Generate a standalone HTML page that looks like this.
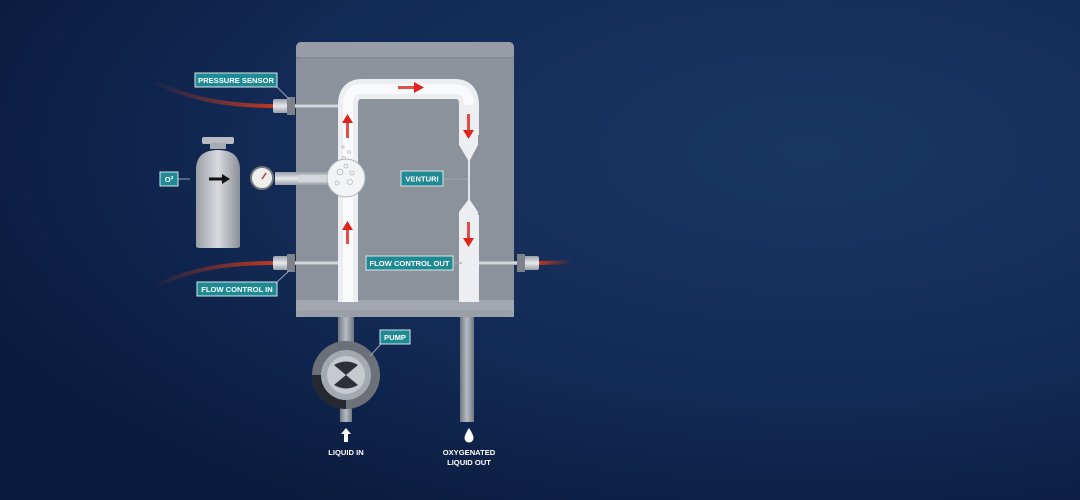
<!DOCTYPE html>
<html><head><meta charset="utf-8"><style>
html,body{margin:0;padding:0;width:1080px;height:500px;overflow:hidden;background:#0d2047}
svg{display:block}
text{font-family:"Liberation Sans",sans-serif;font-weight:bold;fill:#fff}
</style></head><body>
<svg width="1080" height="500" viewBox="0 0 1080 500" xmlns="http://www.w3.org/2000/svg">
<defs>
<radialGradient id="bg" cx="0.75" cy="0.3" r="0.85">
<stop offset="0" stop-color="#1a3663"/><stop offset="0.6" stop-color="#122a55"/><stop offset="1" stop-color="#0a1a3c"/>
</radialGradient>
<linearGradient id="hose" x1="0" x2="1"><stop offset="0" stop-color="#b5341f" stop-opacity="0"/><stop offset="1" stop-color="#c0391f"/></linearGradient>
<linearGradient id="hose2" x1="1" x2="0"><stop offset="0" stop-color="#b5341f" stop-opacity="0"/><stop offset="1" stop-color="#c0391f"/></linearGradient>
<linearGradient id="cyl" x1="0" x2="1"><stop offset="0" stop-color="#9a9ea6"/><stop offset="0.5" stop-color="#d8dadf"/><stop offset="1" stop-color="#8b8f97"/></linearGradient>
<linearGradient id="pipe" x1="0" x2="1"><stop offset="0" stop-color="#707680"/><stop offset="0.5" stop-color="#b7bcc4"/><stop offset="1" stop-color="#707680"/></linearGradient>
<linearGradient id="pipeh" x1="0" y1="0" x2="0" y2="1"><stop offset="0" stop-color="#9a9fa7"/><stop offset="0.5" stop-color="#e6e8ec"/><stop offset="1" stop-color="#9a9fa7"/></linearGradient>
</defs>
<rect width="1080" height="500" fill="url(#bg)"/>
<path d="M150 80 C190 100 230 106 275 106" stroke="url(#hose)" stroke-width="4" fill="none"/>
<path d="M152 288 C190 268 230 263 275 263" stroke="url(#hose)" stroke-width="4" fill="none"/>
<path d="M538 263 L572 262" stroke="url(#hose2)" stroke-width="4" fill="none"/>
<rect x="338" y="314" width="16" height="30" fill="url(#pipe)"/>
<rect x="340" y="400" width="12" height="22" fill="url(#pipe)"/>
<rect x="460" y="314" width="14" height="108" fill="url(#pipe)"/>
<rect x="296" y="42" width="218" height="275" rx="5" fill="#8c929c"/>
<rect x="296" y="42" width="218" height="16" rx="5" fill="#979ca6"/>
<line x1="296" y1="58" x2="514" y2="58" stroke="#7a8089" stroke-width="1"/>
<rect x="296" y="300" width="218" height="17" fill="#a3a8b0"/>
<rect x="296" y="310" width="218" height="7" rx="3" fill="#9ba0a8"/>
<rect x="292" y="104" width="48" height="4" fill="url(#pipeh)"/>
<rect x="292" y="261" width="48" height="4" fill="url(#pipeh)"/>
<rect x="478" y="261" width="42" height="4" fill="url(#pipeh)"/>
<rect x="273" y="99" width="22" height="14" rx="2" fill="url(#pipeh)"/><rect x="287" y="97" width="8" height="18" fill="#7d828a"/>
<rect x="273" y="256" width="22" height="14" rx="2" fill="url(#pipeh)"/><rect x="287" y="254" width="8" height="18" fill="#7d828a"/>
<rect x="517" y="256" width="22" height="14" rx="2" fill="url(#pipeh)"/><rect x="517" y="254" width="8" height="18" fill="#7d828a"/>
<path d="M348 302 L348 105 Q348 89 362 89 L455 89 Q469 89 469 105 L469 300" stroke="#eceef1" stroke-width="20" fill="none"/>
<path d="M348 302 L348 105 Q348 89 362 89 L455 89 Q469 89 469 105" stroke="#ffffff" stroke-width="10" fill="none" opacity="0.7"/>
<rect x="455" y="135" width="30" height="80" fill="#8c929c"/>
<path d="M459 135 L478 135 L478 145 L470 160 L468 160 L459 145 Z" fill="#eceef1"/>
<rect x="468" y="160" width="2" height="42" fill="#e0e2e6"/>
<path d="M468 200 L470 200 L478 212 L478 220 L459 220 L459 212 Z" fill="#eceef1"/>
<rect x="459" y="218" width="20" height="84" fill="#eceef1"/>
<rect x="275" y="172" width="60" height="13" fill="url(#pipeh)"/>
<rect x="298" y="175" width="35" height="7" fill="#d4d6da"/>
<circle cx="346" cy="178" r="19" fill="#f2f3f5" stroke="#b0b4bb"/>
<g fill="none" stroke="#b5b9c0" stroke-width="0.8">
<circle cx="340" cy="172" r="3"/><circle cx="350" cy="182" r="2.5"/><circle cx="337" cy="183" r="2"/><circle cx="346" cy="166" r="2"/><circle cx="352" cy="173" r="2"/><circle cx="344" cy="158" r="1.5"/><circle cx="349" cy="152" r="1.5"/><circle cx="343" cy="147" r="1.2"/>
</g>
<circle cx="262" cy="178" r="11" fill="#eee" stroke="#777" stroke-width="2"/>
<line x1="262" y1="179" x2="266" y2="173" stroke="#c0392b" stroke-width="1.5"/>
<rect x="202" y="137" width="32" height="7" rx="2" fill="#b8bcc2"/>
<rect x="210" y="143" width="16" height="6" fill="#a6aab1"/>
<path d="M196 246 L196 170 Q196 150 218 150 Q240 150 240 170 L240 246 Q240 248 236 248 L200 248 Q196 248 196 246Z" fill="url(#cyl)"/>
<path d="M209 179 L223 179" stroke="#111" stroke-width="3"/><path d="M222 174 L230 179 L222 184Z" fill="#111"/>
<g fill="#e0241b">
<rect x="346" y="122" width="3" height="16" opacity="0.8"/><path d="M342 123 L347.5 114 L353 123Z"/>
<rect x="346" y="228" width="3" height="16" opacity="0.8"/><path d="M342 230 L347.5 221 L353 230Z"/>
<rect x="398" y="86" width="18" height="3" opacity="0.8"/><path d="M414 82 L424 87.5 L414 93Z"/>
<rect x="467" y="114" width="3" height="16" opacity="0.8"/><path d="M463 130 L468.5 139 L474 130Z"/>
<rect x="467" y="222" width="3" height="16" opacity="0.8"/><path d="M463 238 L468.5 247 L474 238Z"/>
</g>
<circle cx="346" cy="375" r="34" fill="#6b7079"/>
<path d="M312 375 A34 34 0 0 0 346 409 L346 400 A25 25 0 0 1 321 375Z" fill="#25282e"/>
<circle cx="346" cy="375" r="25" fill="#a4a9b1"/>
<circle cx="346" cy="375" r="19" fill="#c6c9ce"/>
<path d="M334 365 Q346 358 358 365 L346 375Z M334 385 Q346 392 358 385 L346 375Z" fill="#2d3036"/>
<g stroke="#9aa3ad" stroke-width="1" fill="none">
<line x1="277" y1="87" x2="290" y2="100"/><line x1="277" y1="282" x2="290" y2="270"/>
<line x1="178" y1="179" x2="190" y2="179"/><line x1="443" y1="179" x2="468" y2="179"/>
<line x1="453" y1="263" x2="462" y2="263"/><line x1="381" y1="344" x2="370" y2="356"/>
</g>
<g fill="#1f8a93" stroke="#d7e6ea" stroke-width="1">
<rect x="195" y="73" width="82" height="14"/><rect x="160" y="172" width="18" height="14"/>
<rect x="401" y="171" width="42" height="15"/><rect x="197" y="282" width="80" height="14"/>
<rect x="366" y="256" width="87" height="14"/><rect x="380" y="330" width="30" height="14"/>
</g>
<g font-size="7.6" text-anchor="middle">
<text x="236" y="83">PRESSURE SENSOR</text><text x="169" y="182">O²</text>
<text x="422" y="181.5">VENTURI</text><text x="237" y="292">FLOW CONTROL IN</text>
<text x="409.5" y="266">FLOW CONTROL OUT</text><text x="395" y="340">PUMP</text>
<text x="346" y="455">LIQUID IN</text><text x="469" y="455">OXYGENATED</text><text x="469" y="465">LIQUID OUT</text>
</g>
<path d="M346 428 L351 434 L348 434 L348 442 L344 442 L344 434 L341 434Z" fill="#fff"/>
<path d="M469 428 Q475 437 473 440 A4.5 4.5 0 0 1 465 440 Q463 437 469 428Z" fill="#fff"/>
</svg>
</body></html>
